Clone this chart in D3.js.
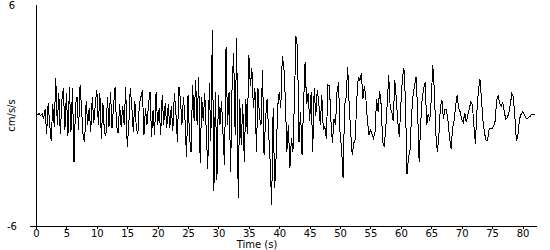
<html>
<head>
    <script src="https://d3js.org/d3.v7.min.js"></script>
    <style type="text/css">
      body { margin: 0; background: white; }
      text { font-family: "DejaVu Sans", sans-serif; font-size: 10px; fill: black; }
    </style>
</head>

<body onload="displayVisualization()">
  <svg id="viz" width="550" height="250"></svg>
</body>

<script>
// sample interval in seconds
var dt = 0.25;
// ground acceleration (cm/s/s), every 0.25 s
var accel = [
  0.05, 0.05, 0.1, 0.0, 0.1, -0.2, 0.35, -1.0, 0.7, -0.5,
  -1.4, 0.6, -0.6, 2.05, -0.5, 1.2, -1.0, 0.8, 1.5, -0.8,
  1.2, -1.1, 1.55, -0.9, 1.5, -2.55, 0.6, 1.0, -0.8, 1.65,
  0.3, -1.1, -1.45, 0.8, -0.5, 0.4, -0.9, 1.0, -0.4, 0.6,
  1.4, -0.5, 1.2, -1.25, 0.7, -0.9, -1.1, 1.0, -0.6, 1.3,
  -0.7, 0.5, 1.55, -0.6, -0.95, 0.6,
  -0.6, 0.5, -0.5, 1.55, -1.7, -0.6, 1.48, 0.5, -0.9, 0.8,
  -0.7, -1.0, 0.6, 1.0, 1.4, -1.05, 0.4, -0.5, 0.6, 1.3,
  -1.15, 0.3, -1.05, 1.3, -0.5, 0.4, -1.05, 1.1, -0.5, 0.7,
  -0.7, 0.6, -0.7, 0.5, -0.85, 1.2, 0.2, -1.43, 1.57, 0.9,
  -0.5, 1.0, -0.2, -2.24, 1.1, -1.2, -2.0, 1.65, -0.3, 1.93,
  -0.5, 2.1, -2.6, 1.0, -0.3, 1.2,
  -0.9, -2.9, 1.75, -1.4, 4.65, -4.1, 1.3, -3.5, 1.1, -0.5,
  0.8, -1.0, -2.7, 3.74, -0.5, 1.3, -3.05, 1.7, 3.38, -1.06,
  4.2, -4.5, 0.9, -1.6, 0.6, -2.5, 0.9, -1.0, 3.3, 1.6,
  2.56, 0.4, 1.5, -1.97, 1.5, -0.1, -0.5, 2.45, -2.15, -0.2,
  0.9, -0.9, -2.5, -4.86, 0.4, -3.96, -2.15, 0.5, 1.3, 0.4,
  3.2, 2.74, 0.9, -1.97, -0.5, -2.87,
  -1.2, -2.0, 0.9, 4.3, 3.7, -1.43, 0.2, -2.15, 0.6, 2.9,
  0.6, 1.2, -0.3, 1.3, -1.97, 1.5, -0.05, 1.4, 0.7, -0.5,
  1.1, -0.8, -0.6, -1.3, 1.66, 1.6, -0.3, -1.5, -0.2, -0.5,
  1.3, 1.8, -1.0, -1.8, -3.4, 0.55, 1.0, 2.65, 0.55, -0.9,
  -2.15, -1.5, -1.3, 0.9, 2.1, 1.9, 2.3, 0.9, 1.6, 0.9,
  -0.3, -1.05, -0.8, -1.0, -1.25, -0.9,
  0.9, 0.2, 1.35, 0.6, -1.4, -1.7, -0.8, 0.6, 2.2, 0.4,
  0.2, -0.3, 1.93, 0.9, -0.4, -1.15, 0.6, 2.0, 2.56, 0.9,
  -3.2, -2.3, -1.9, 0.0, 1.1, 1.6, 2.1, 0.3, -2.5, -0.5,
  0.9, 1.5, 1.8, -0.5, 0.1, -0.3, 0.9, 2.74, 1.4, -1.0,
  -1.97, -1.1, 0.5, 0.84, -0.2, 0.35, 0.3, -0.3, -1.2, -1.79,
  -0.7, -0.3, 0.5, 1.1, 0.4, 0.2,
  -0.2, -0.4, 0.15, -0.35, 0.0, 0.35, 0.75, 0.6, -0.5, -1.52,
  0.2, 1.35, 2.0, 0.9, -0.3, -0.95, -1.35, -1.35, -0.75, -0.7,
  -0.7, -0.6, -0.3, 0.85, 1.1, 0.65, 0.5, 0.75, 0.2, -0.2,
  -0.1, 0.1, 0.6, 1.2, 1.0, -0.1, -1.4, -1.05, -0.2, 0.05,
  0.2, 0.1, -0.1, -0.2, -0.1, -0.05, 0.05, 0.05, 0.05
];
var xTicks = [0, 5, 10, 15, 20, 25, 30, 35, 40, 45, 50, 55, 60, 65, 70, 75, 80];
var yTicks = [-6, 6];
var xLabel = "Time (s)";
var yLabel = "cm/s/s";

function displayVisualization(){
  var svg = d3.select("#viz");
  svg.selectAll("*").remove();

  var x = d3.scaleLinear().domain([0, 80]).range([36, 522.5]);
  var y = d3.scaleLinear().domain([-6, 6]).range([226, 5]);

  // y axis line
  svg.append("line")
      .attr("x1", x(0)).attr("x2", x(0))
      .attr("y1", y(6)).attr("y2", y(-6))
      .style("stroke", "black")
      .style("shape-rendering", "crispEdges");

  // x axis line (runs a little past both ends)
  svg.append("line")
      .attr("x1", x(0) - 6).attr("x2", 537)
      .attr("y1", y(-6)).attr("y2", y(-6))
      .style("stroke", "black")
      .style("shape-rendering", "crispEdges");

  var xAxis = d3.axisBottom(x).tickValues(xTicks).tickSize(3).tickPadding(1);
  var gx = svg.append("g")
      .attr("transform", "translate(0," + y(-6) + ")")
      .call(xAxis);
  gx.select(".domain").remove();
  gx.selectAll("line").style("shape-rendering", "crispEdges");
  gx.selectAll("text").style("font-family", "DejaVu Sans").style("font-size", "10px");

  svg.selectAll("ylab")
    .data(yTicks)
    .enter()
    .append("text")
      .attr("x", 12)
      .attr("y", function(d){ return y(d) + 4 })
      .attr("text-anchor", "middle")
      .text(function(d){ return d == -6 ? "\u22126".replace("\u2212", "-") : d });

  svg.append("text")
      .attr("x", 257)
      .attr("y", 248)
      .attr("text-anchor", "middle")
      .text(xLabel);

  svg.append("text")
      .attr("transform", "translate(15," + y(0) + ") rotate(-90)")
      .attr("text-anchor", "middle")
      .text(yLabel);

  var line = d3.line()
      .x(function(d, i){ return x(i * dt) })
      .y(function(d){ return y(d) });

  svg.append("path")
      .datum(accel)
      .attr("d", line)
      .style("fill", "none")
      .style("stroke", "black")
      .style("stroke-width", "1")
      .style("shape-rendering", "crispEdges");
}
</script>

</html>
